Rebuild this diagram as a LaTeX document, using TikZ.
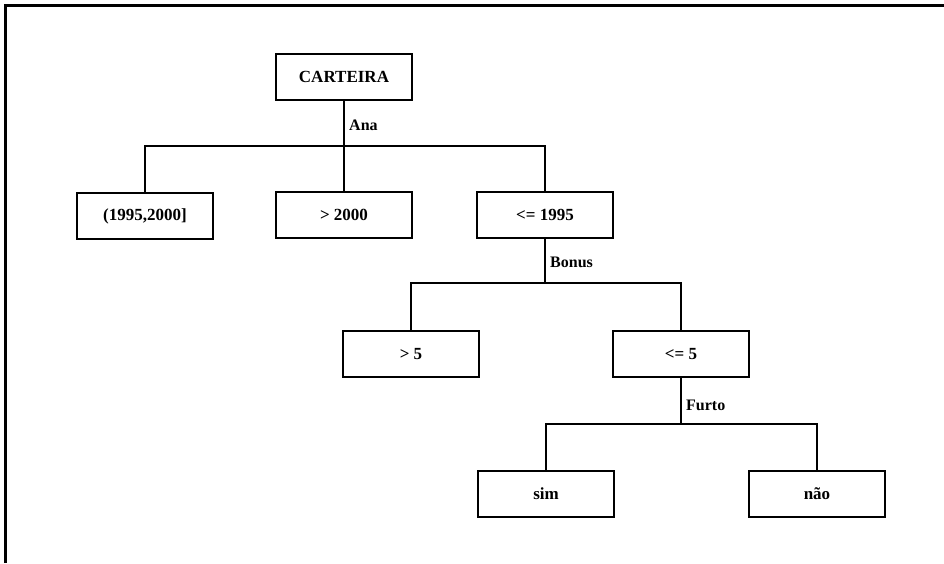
\documentclass[tikz,border=0pt]{standalone}
\usepackage{fontspec}
\setmainfont{Liberation Serif}
\begin{document}
\begin{tikzpicture}[x=1pt,y=-1pt,
  box/.style={draw,line width=2.8pt,rectangle,minimum width=136pt,minimum height=46pt,inner sep=0pt,font=\fontsize{17}{19}\selectfont\bfseries},
  edge/.style={line width=2.8pt},
  lbl/.style={anchor=west,inner sep=0pt,font=\fontsize{16}{18}\selectfont\bfseries}]
\useasboundingbox (0,0) rectangle (944,563);
\draw[line width=3pt] (5,563) -- (5,5) -- (944,5);
\node[box] (root) at (344,77) {CARTEIRA};
\node[box] (n1) at (145,216) {(1995,2000]};
\node[box] (n2) at (344,215) {> 2000};
\node[box] (n3) at (545,215) {<= 1995};
\node[box] (b1) at (411,354) {> 5};
\node[box] (b2) at (681,354) {<= 5};
\node[box] (f1) at (546,494) {sim};
\node[box] (f2) at (817,494) {não};
\coordinate (ana) at (344,146);
\coordinate (bon) at (545,283);
\coordinate (fur) at (681,424);
\draw[edge] (root.south) -- (ana);
\draw[edge] (n1.north) |- (ana) -| (n3.north);
\draw[edge] (ana) -- (n2.north);
\draw[edge] (n3.south) -- (bon);
\draw[edge] (b1.north) |- (bon) -| (b2.north);
\draw[edge] (b2.south) -- (fur);
\draw[edge] (f1.north) |- (fur) -| (f2.north);
\node[lbl] (lana) at (349,125) {Ana};
\node[lbl] (lbon) at (550,262) {Bonus};
\node[lbl] (lfur) at (686,405) {Furto};
\end{tikzpicture}
\end{document}
